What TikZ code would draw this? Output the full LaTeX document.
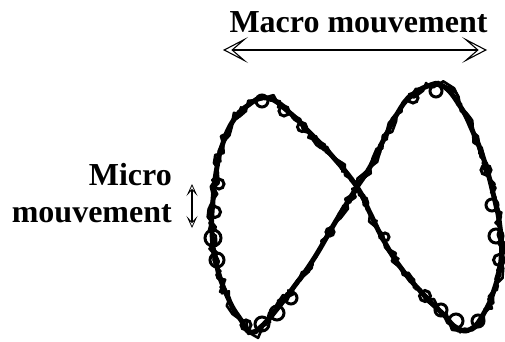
\documentclass[tikz,border=0pt]{standalone}
\usepackage{fontspec}
\setmainfont{Liberation Serif}
\usetikzlibrary{arrows.meta,decorations.pathmorphing}
\tikzset{
  lbl/.style={inner sep=0pt, font=\bfseries\fontsize{32}{36}\selectfont},
  bigarrow/.style={line width=2pt, {Stealth[open,length=25pt,width=26pt,inset=15pt,line width=1.1pt]}-{Stealth[open,length=25pt,width=26pt,inset=15pt,line width=1.1pt]}},
  smallarrow/.style={line width=1.6pt, {Stealth[open,length=12pt,width=11pt,inset=6pt,line width=0.8pt]}-{Stealth[open,length=12pt,width=11pt,inset=6pt,line width=0.8pt]}},
  eightbase/.style={line width=5pt, line join=round},
  eightrough/.style={line width=2.6pt, line join=round, decorate, decoration={random steps, segment length=7pt, amplitude=4.5pt}},
  bead/.style={line width=3pt}
}
\begin{document}
\begin{tikzpicture}[x=1pt,y=-1pt]
\useasboundingbox (0,0) rectangle (505,342);
\pgfmathsetseed{7}
% labels
\node[lbl, anchor=base] (macro) at (358.5,33) {Macro mouvement};
\node[lbl, anchor=base east] (micro1) at (172,185) {Micro};
\node[lbl, anchor=base east] (micro2) at (172,222) {mouvement};
% arrows
\coordinate (ml) at (223,50);
\coordinate (mr) at (487,50);
\draw[bigarrow] (ml) -- (mr);
\coordinate (su) at (192,184);
\coordinate (sd) at (192,228);
\draw[smallarrow] (su) -- (sd);
% figure eight
\def\eightpts{(357,187) (333,157) (310,133) (290,113) (267,98) (247,106) (233,121) (223,143) (217,167) (213,200) (212,233) (217,267) (229,300) (241,320) (250,332) (263,325) (277,309) (293,288) (313,260) (333,226) (347,203)
(357,187) (370,167) (383,141) (397,114) (410,97) (428,86) (443,86) (460,106) (473,132) (484,160) (493,193) (500,227) (501,260) (494,290) (484,313) (471,329) (457,328) (443,314) (423,294) (401,268) (384,241) (370,213)}
\draw[eightbase] plot[smooth cycle, tension=0.8] coordinates {\eightpts};
\draw[eightrough] plot[smooth cycle, tension=0.8] coordinates {\eightpts};
\draw[eightrough, decoration={random steps, segment length=6pt, amplitude=4pt}] plot[smooth cycle, tension=0.8] coordinates {\eightpts};
\draw[eightrough, line width=2pt, decoration={random steps, segment length=4pt, amplitude=3pt}] plot[smooth cycle, tension=0.8] coordinates {\eightpts};
% small loops along the trace
\foreach \px/\py/\r in {213/238/8, 217/260/7, 215/212/5.5, 219/184/5, 262/324/7, 277/313/7, 291/298/6, 262/101/6, 284/111/5, 302/127/4.5, 496/236/7, 492/205/6, 499/260/5.5, 486/170/5, 456/321/7, 441/310/6, 425/296/5.5, 478/321/6, 436/91/6, 413/98/5, 246/325/5, 330/232/4, 385/237/4}
  \draw[bead] (\px,\py) circle (\r);
\end{tikzpicture}
\end{document}
